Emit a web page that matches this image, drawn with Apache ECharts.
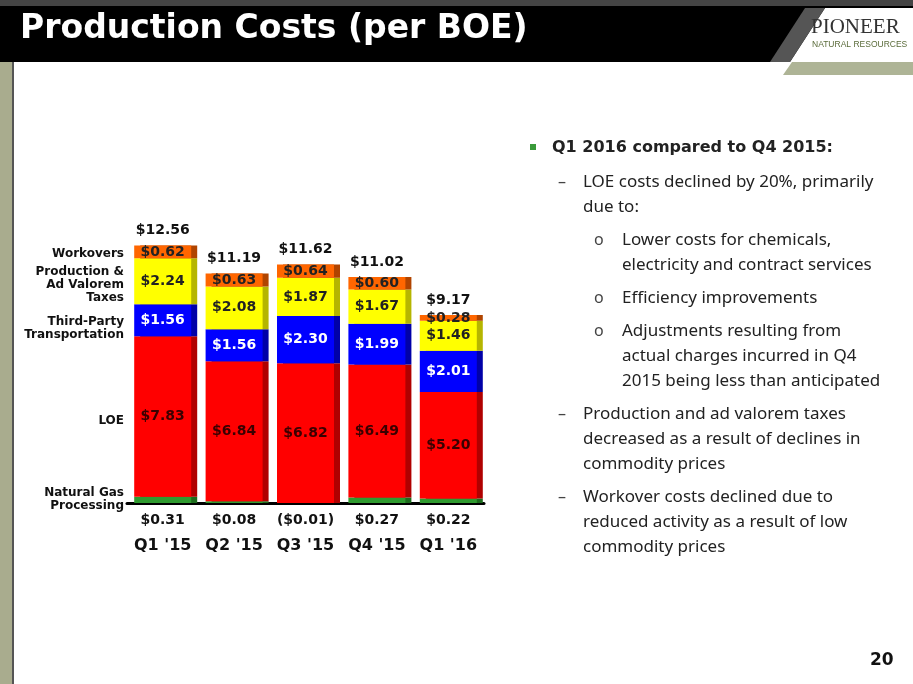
<!DOCTYPE html>
<html><head><meta charset="utf-8">
<script src="https://cdn.jsdelivr.net/npm/echarts@6/dist/echarts.min.js"></script>
<style>html,body{margin:0;padding:0;background:#fff}#c{width:913px;height:684px}</style>
</head><body><div id="c"></div>
<script>
const categories = ["Q1 '15","Q2 '15","Q3 '15","Q4 '15","Q1 '16"];
const gasProcessing = [0.31, 0.08, -0.01, 0.27, 0.22];
const loe = [7.83, 6.84, 6.82, 6.49, 5.20];
const transport = [1.56, 1.56, 2.30, 1.99, 2.01];
const taxes = [2.24, 2.08, 1.87, 1.67, 1.46];
const workovers = [0.62, 0.63, 0.64, 0.60, 0.28];
const totals = [12.56, 11.19, 11.62, 11.02, 9.17];
const fmt = v => v < 0 ? '($' + Math.abs(v).toFixed(2) + ')' : '$' + v.toFixed(2);

const chart = echarts.init(document.getElementById('c'));
const lblBase = {show:true, position:'inside', fontFamily:'DejaVu Sans', fontWeight:'bold', fontSize:14, formatter:p=>fmt(p.value)};
function seg(name, data, color, textColor, side){
  return {name, type:'bar', stack:'s', data, barWidth:57,
    itemStyle:{color, shadowColor:side, shadowOffsetX:6, shadowBlur:0},
    label:Object.assign({}, lblBase, {color:textColor})};
}
const rightText = [
  {x:552,y:148,t:'Q1 2016 compared to Q4 2015:',b:true},
  {x:583,y:182,t:'LOE costs declined by 20%, primarily'},
  {x:583,y:207,t:'due to:'},
  {x:622,y:240,t:'Lower costs for chemicals,'},
  {x:622,y:265,t:'electricity and contract services'},
  {x:622,y:298,t:'Efficiency improvements'},
  {x:622,y:331,t:'Adjustments resulting from'},
  {x:622,y:356,t:'actual charges incurred in Q4'},
  {x:622,y:381,t:'2015 being less than anticipated'},
  {x:583,y:414,t:'Production and ad valorem taxes'},
  {x:583,y:439,t:'decreased as a result of declines in'},
  {x:583,y:464,t:'commodity prices'},
  {x:583,y:497,t:'Workover costs declined due to'},
  {x:583,y:522,t:'reduced activity as a result of low'},
  {x:583,y:547,t:'commodity prices'}
];
const markers = [
  {x:558,y:182,t:'–'},{x:594,y:240,t:'o'},{x:594,y:298,t:'o'},{x:594,y:331,t:'o'},
  {x:558,y:414,t:'–'},{x:558,y:497,t:'–'}
];
const leftLabels = [
  {y:254,t:'Workovers'},{y:285,t:'Production &\nAd Valorem\nTaxes'},
  {y:328,t:'Third-Party\nTransportation'},{y:421,t:'LOE'},{y:499,t:'Natural Gas\nProcessing'}
];
const graphic = [
  {type:'rect',shape:{x:0,y:0,width:913,height:62},style:{fill:'#000'}},
  {type:'rect',shape:{x:0,y:0,width:913,height:6},style:{fill:'#444'}},
  {type:'polygon',shape:{points:[[790,62],[825,8],[913,8],[913,62]]},style:{fill:'#fff'}},
  {type:'polygon',shape:{points:[[770,62],[805,8],[825,8],[790,62]]},style:{fill:'#555'}},
  {type:'polygon',shape:{points:[[783,75],[792,62],[913,62],[913,75]]},style:{fill:'#aeb496'}},
  {type:'text',x:811,y:17,style:{text:'PIONEER',font:'21px "Liberation Serif"',fill:'#333'}},
  {type:'text',x:812,y:40,style:{text:'NATURAL RESOURCES',font:'8.5px "Liberation Sans"',fill:'#5a6b3a'}},
  {type:'text',x:20,y:13,style:{text:'Production Costs (per BOE)',font:'bold 33px "DejaVu Sans"',fill:'#fff'}},
  {type:'rect',shape:{x:0,y:62,width:12,height:622},style:{fill:'#a9ac8e'}},
  {type:'rect',shape:{x:12,y:62,width:2,height:622},style:{fill:'#555'}},
  {type:'rect',shape:{x:530,y:144,width:6,height:6},style:{fill:'#3a9a3a'}},
  {type:'text',x:870,y:652,style:{text:'20',font:'bold 17px "DejaVu Sans"',fill:'#111'}}
];
rightText.forEach(r=>graphic.push({type:'text',x:r.x,y:r.y,style:{text:r.t,font:r.b?'bold 16px "DejaVu Sans"':'17px "Noto Sans"',fill:'#222',textVerticalAlign:'middle'}}));
markers.forEach(r=>graphic.push({type:'text',x:r.x,y:r.y,style:{text:r.t,font:'16px "Noto Sans"',fill:'#444',textVerticalAlign:'middle'}}));
leftLabels.forEach(r=>graphic.push({type:'text',x:124,y:r.y,style:{text:r.t,font:'bold 12px "DejaVu Sans"',fill:'#111',align:'right',verticalAlign:'middle',lineHeight:13}}));

chart.setOption({
  animation:false,
  grid:{left:127,width:357,top:216,bottom:181},
  xAxis:{type:'category',data:categories,
    axisLine:{lineStyle:{color:'#000',width:3}},axisTick:{show:false},
    axisLabel:{margin:6,interval:0,fontFamily:'DejaVu Sans',color:'#111',
      formatter:(v,i)=>'{g|'+fmt(gasProcessing[i])+'}\n{q|'+v+'}',
      rich:{g:{fontSize:14,fontWeight:'bold',fontFamily:'DejaVu Sans',height:22,color:'#111'},
            q:{fontSize:16,fontWeight:'bold',fontFamily:'DejaVu Sans',height:30,color:'#111'}}}},
  yAxis:{type:'value',min:0,max:14,show:false,splitLine:{show:false}},
  series:[
    {name:'Natural Gas Processing',type:'bar',stack:'s',data:gasProcessing,barWidth:57,itemStyle:{color:'#2f9a2f',shadowColor:'#1d6b1d',shadowOffsetX:6,shadowBlur:0}},
    seg('LOE',loe,'#ff0000','#3a0000','#b00000'),
    seg('Third-Party Transportation',transport,'#0000ff','#fff','#0000a8'),
    seg('Production & Ad Valorem Taxes',taxes,'#ffff00','#222','#b5b500'),
    seg('Workovers',workovers,'#ff6600','#222','#b04400'),
    {name:'Total',type:'bar',stack:'s',data:totals.map(()=>0),barWidth:57,
      label:{show:true,position:'top',distance:8,fontFamily:'DejaVu Sans',fontWeight:'bold',fontSize:14,color:'#111',
        formatter:p=>fmt(totals[p.dataIndex])}}
  ],
  graphic
});
</script></body></html>
